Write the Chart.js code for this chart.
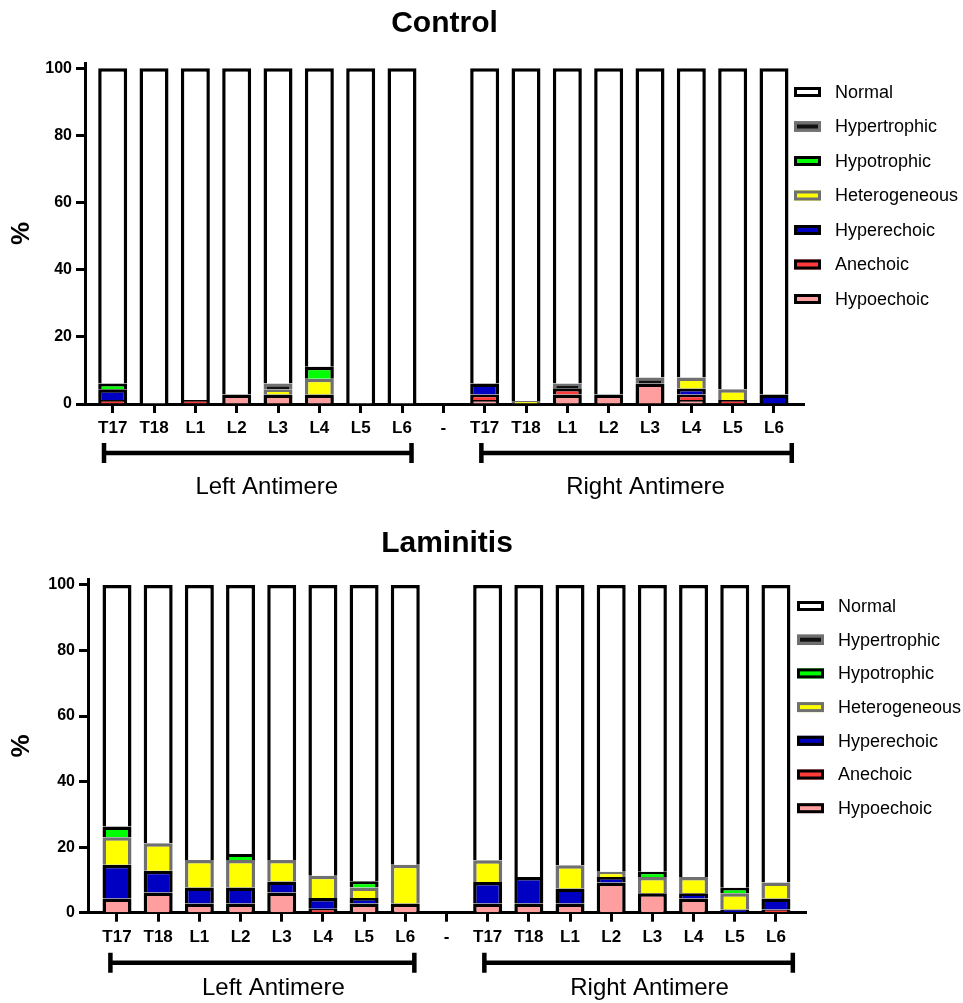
<!DOCTYPE html>
<html><head><meta charset="utf-8">
<script src="https://cdn.jsdelivr.net/npm/chart.js@4.4.1/dist/chart.umd.min.js"></script>
<style>
html,body{margin:0;padding:0;background:#fff;width:963px;height:1003px;overflow:hidden;}
canvas{position:absolute;left:0;display:block;}
</style>
</head><body>
<canvas id="c1" width="963" height="510" style="top:0px"></canvas>
<canvas id="c2" width="963" height="493" style="top:510px"></canvas>
<script>
// ---------- DATA ----------
const categories = ['T17','T18','L1','L2','L3','L4','L5','L6','-','T17','T18','L1','L2','L3','L4','L5','L6'];
const seriesNames = ['Hypoechoic','Anechoic','Hyperechoic','Heterogeneous','Hypotrophic','Hypertrophic','Normal'];
const groupLabels = ['Left Antimere','Right Antimere'];
const yTicks = [0,20,40,60,80,100];

// Control (%)
const controlHypoechoic    = [0,0,0,2.8,2.8,2.8,0,0,null,1.2,0,2.8,2.8,6.1,1.2,0,0];
const controlAnechoic      = [1.2,0,1.2,0,0,0,0,0,null,1.6,0,1.9,0,0,1.6,1.2,0];
const controlHyperechoic   = [3.2,0,0,0,0,0,0,0,null,3.3,0,0,0,0,1.8,0,2.8];
const controlHeterogeneous = [0,0,0,0,1.6,4.7,0,0,null,0,0.9,0,0,0,3.3,3.2,0];
const controlHypotrophic   = [1.7,0,0,0,0,3.6,0,0,null,0,0,0,0,0,0,0,0];
const controlHypertrophic  = [0,0,0,0,1.7,0,0,0,null,0,0,1.4,0,1.8,0,0,0];
const controlNormal        = [93.9,100,98.8,97.2,93.9,88.9,100,100,null,93.9,99.1,93.9,97.2,92.1,92.1,95.6,97.2];

// Laminitis (%)
const lamHypoechoic    = [4.3,6.2,2.8,2.8,6.2,0,2.8,2.8,null,2.8,2.8,2.8,9.2,5.9,4.3,0,0];
const lamAnechoic      = [0,0,0,0,0,1.2,0,0,null,0,0,0,0,0,0,0,1.0];
const lamHyperechoic   = [10.3,6.6,4.9,4.9,3.3,3.3,1.7,0,null,6.6,8.1,4.6,1.7,0,1.6,1.0,3.3];
const lamHeterogeneous = [8.4,8.4,8.4,8.4,6.6,6.8,3.2,11.8,null,6.6,0,7.1,1.6,5.0,5.0,4.9,4.9];
const lamHypotrophic   = [3.3,0,0,1.8,0,0,1.9,0,null,0,0,0,0,1.6,0,1.7,0];
const lamHypertrophic  = [0,0,0,0,0,0,0,0,null,0,0,0,0,0,0,0,0];
const lamNormal        = [73.7,78.8,83.9,82.1,83.9,88.7,90.4,85.4,null,84.0,89.1,85.5,87.5,87.5,89.1,92.4,90.8];

// group spans (category indices)
const groupSpans = [[0,7],[9,16]];

// ---------- STYLE ----------
const FONT = '"Liberation Sans", Arial, Helvetica, sans-serif';
const fills   = ['#FF9E9E','#FF3B3B','#0000C2','#FFFF00','#00FF00','#111111','#FFFFFF'];
const borders = ['#000000','#000000','#000000','#707070','#000000','#707070','#000000'];

const overlay = {
  id: 'overlay',
  afterDraw(chart, args, o) {
    const ctx = chart.ctx, xs = chart.scales.x, base = chart.chartArea.bottom;
    ctx.save();
    groupSpans.forEach((sp, gi) => {
      const x0 = xs.getPixelForValue(sp[0] - o.extL[gi]);
      const x1 = xs.getPixelForValue(sp[1] + o.extR[gi]);
      const y = base + o.bracketDy;
      ctx.strokeStyle = '#000'; ctx.lineWidth = 4.5; ctx.lineCap = 'butt';
      ctx.beginPath(); ctx.moveTo(x0, y); ctx.lineTo(x1, y); ctx.stroke();
      ctx.beginPath();
      ctx.moveTo(x0, y - 10); ctx.lineTo(x0, y + 10);
      ctx.moveTo(x1, y - 10); ctx.lineTo(x1, y + 10);
      ctx.stroke();
      ctx.fillStyle = '#000'; ctx.font = '24px ' + FONT;
      ctx.textAlign = 'center'; ctx.textBaseline = 'middle';
      ctx.fillText(groupLabels[gi], (x0 + x1) / 2 + o.textShift, base + o.textDy);
    });
    const ds = chart.data.datasets;
    for (let k = 0; k < ds.length; k++) {
      const d = ds[ds.length - 1 - k];
      const cy = o.legendY + k * o.legendStep;
      const lx = o.legendX;
      ctx.fillStyle = d.backgroundColor;
      ctx.fillRect(lx, cy - 5, 27, 10);
      ctx.strokeStyle = d.borderColor; ctx.lineWidth = 3;
      ctx.strokeRect(lx + 1.5, cy - 3.5, 24, 7);
      ctx.fillStyle = '#000'; ctx.font = '18px ' + FONT;
      ctx.textAlign = 'left'; ctx.textBaseline = 'middle';
      ctx.fillText(d.label, lx + 41, cy + 1);
    }
    ctx.restore();
  }
};

function makeChart(id, title, series, L) {
  const datasets = series.map((arr, si) => ({
    label: seriesNames[si],
    data: arr.map((v, i) => ({x: i, y: v})).filter(p => p.y !== null),
    backgroundColor: fills[si],
    borderColor: borders[si],
    borderWidth: 3.5,
    borderSkipped: 'start',
    inflateAmount: 0,
    barThickness: 29
  }));
  return new Chart(document.getElementById(id), {
    type: 'bar',
    data: { datasets },
    plugins: [overlay],
    options: {
      responsive: false, animation: false, devicePixelRatio: 1,
      layout: { padding: { left: 0, right: L.padRight, top: 0, bottom: 0 } },
      plugins: {
        legend: { display: false },
        tooltip: { enabled: false },
        title: {
          display: true, text: title, fullSize: false, color: '#000',
          font: { family: FONT, size: 30, weight: 'bold', lineHeight: 1.2 },
          padding: { top: L.titleTop, bottom: L.titleBottom }
        },
        overlay: L.overlay
      },
      scales: {
        x: {
          type: 'linear', stacked: true, offset: false,
          min: L.xMin, max: L.xMax,
          afterBuildTicks: s => { s.ticks = categories.map((c, i) => ({ value: i })); },
          afterFit: s => { s.height = L.xH; },
          ticks: {
            autoSkip: false, maxRotation: 0, minRotation: 0, padding: 5, color: '#000',
            font: { family: FONT, size: 17, weight: 'bold' },
            callback: v => categories[v]
          },
          grid: { display: true, offset: false, drawOnChartArea: false, drawTicks: true, tickLength: 9, tickWidth: 3, tickColor: '#000' },
          border: { display: true, color: '#000', width: 3 }
        },
        y: {
          stacked: true, min: 0, max: L.yMax,
          afterBuildTicks: s => { s.ticks = yTicks.map(v => ({ value: v })); },
          afterFit: s => { s.width = L.yW; },
          ticks: { padding: 4, color: '#000', font: { family: FONT, size: 16, weight: 'bold' } },
          grid: { display: true, drawOnChartArea: false, drawTicks: true, tickLength: 9, tickWidth: 3, tickColor: '#000' },
          border: { display: true, color: '#000', width: 3 },
          title: {
            display: true, text: '%', color: '#000',
            font: { family: FONT, size: 26, weight: 'bold', lineHeight: 1.2 },
            padding: { top: 6, bottom: 0 }
          }
        }
      }
    }
  });
}

makeChart('c1', 'Control',
  [controlHypoechoic, controlAnechoic, controlHyperechoic, controlHeterogeneous, controlHypotrophic, controlHypertrophic, controlNormal],
  { padRight: 159, titleTop: 6, titleBottom: 21, xMin: -0.67, xMax: 16.726, xH: 106, yW: 85, yMax: 101.6,
    overlay: { extL: [0.21, 0.08], extR: [0.23, 0.43], bracketDy: 49, textDy: 83, textShift: 9,
               legendX: 794, legendY: 92, legendStep: 34.5 } });

makeChart('c2', 'Laminitis',
  [lamHypoechoic, lamAnechoic, lamHyperechoic, lamHeterogeneous, lamHypotrophic, lamHypertrophic, lamNormal],
  { padRight: 157, titleTop: 16, titleBottom: 17, xMin: -0.704, xMax: 16.73, xH: 90.3, yW: 88, yMax: 101.8,
    overlay: { extL: [0.16, 0.08], extR: [0.22, 0.41], bracketDy: 50, textDy: 76, textShift: 11,
               legendX: 797, legendY: 96, legendStep: 33.7 } });
</script>
</body></html>
